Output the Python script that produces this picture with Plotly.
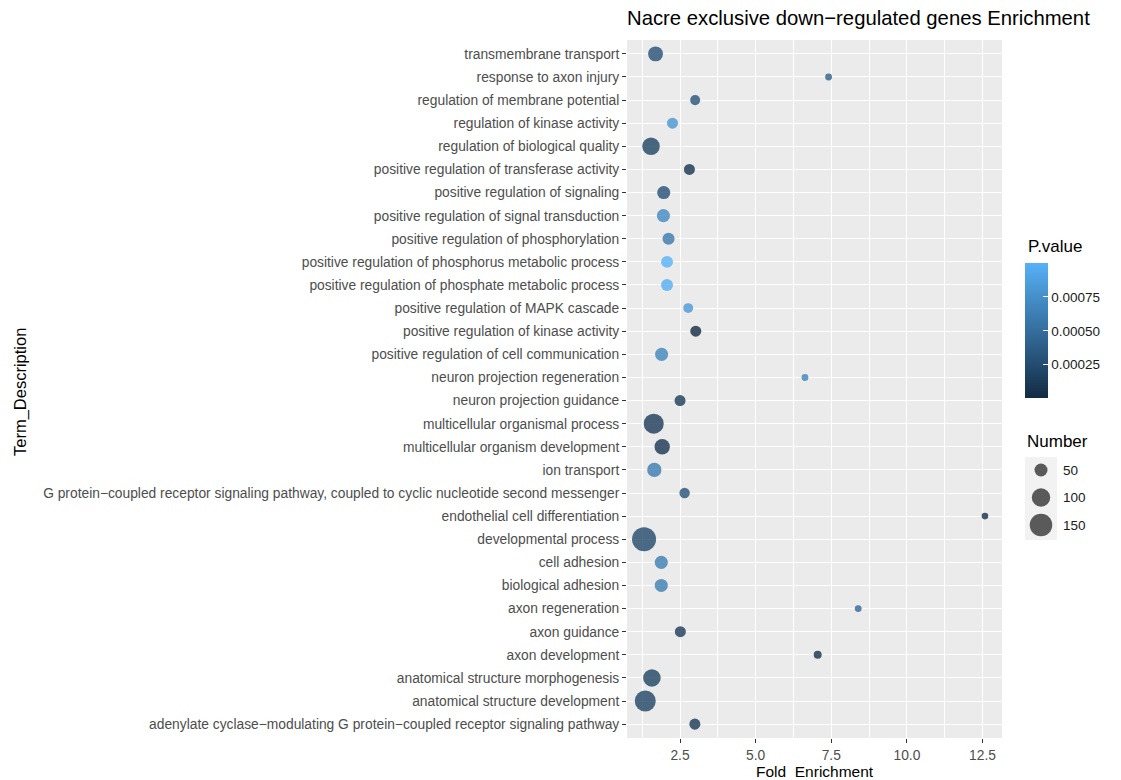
import plotly.graph_objects as go

# categories, bottom-to-top (alphabetical, case-insensitive)
terms = [
    "adenylate cyclase\u2212modulating G protein\u2212coupled receptor signaling pathway",
    "anatomical structure development",
    "anatomical structure morphogenesis",
    "axon development",
    "axon guidance",
    "axon regeneration",
    "biological adhesion",
    "cell adhesion",
    "developmental process",
    "endothelial cell differentiation",
    "G protein\u2212coupled receptor signaling pathway, coupled to cyclic nucleotide second messenger",
    "ion transport",
    "multicellular organism development",
    "multicellular organismal process",
    "neuron projection guidance",
    "neuron projection regeneration",
    "positive regulation of cell communication",
    "positive regulation of kinase activity",
    "positive regulation of MAPK cascade",
    "positive regulation of phosphate metabolic process",
    "positive regulation of phosphorus metabolic process",
    "positive regulation of phosphorylation",
    "positive regulation of signal transduction",
    "positive regulation of signaling",
    "positive regulation of transferase activity",
    "regulation of biological quality",
    "regulation of kinase activity",
    "regulation of membrane potential",
    "response to axon injury",
    "transmembrane transport",
]

fold_enrichment = [2.99, 1.35, 1.57, 7.05, 2.51, 8.39, 1.88, 1.88, 1.31, 12.58,
                   2.65, 1.65, 1.91, 1.63, 2.50, 6.63, 1.89, 3.02, 2.77, 2.07,
                   2.07, 2.12, 1.95, 1.96, 2.81, 1.54, 2.25, 3.00, 7.41, 1.69]

number = [36, 130, 91, 19, 36, 14, 51, 51, 170, 13,
          32, 60, 70, 118, 36, 14, 51, 36, 29, 42,
          42, 43, 51, 51, 36, 91, 36, 30, 14, 66]

p_value = [0.00010, 0.00020, 0.00018, 0.00004, 0.00012, 0.00045, 0.00062, 0.00062, 0.00022, 0.00003,
           0.00030, 0.00060, 0.00008, 0.00012, 0.00012, 0.00065, 0.00068, 0.000005, 0.00082, 0.00098,
           0.00100, 0.00058, 0.00070, 0.00028, 0.00006, 0.00018, 0.00080, 0.00030, 0.00040, 0.00028]

size_breaks = [50, 100, 150]
size_break_labels = ["50", "100", "150"]
p_ticks = [0.00025, 0.00050, 0.00075]
p_tick_labels = ["0.00025", "0.00050", "0.00075"]

title_text = "Nacre exclusive down\u2212regulated genes Enrichment"
x_title = "Fold\u00a0 Enrichment"
y_title = "Term_Description"

FONT = "Liberation Sans, Arial, sans-serif"
SIZEREF = 0.59
LOW, HIGH = "#132B43", "#56B1F7"
OPACITY = 0.8

OFF = 8  # page body margin
W, H = 1121 - OFF, 780 - OFF
L, R, T, B = 627 - OFF, 10, 40 - OFF, 780 - 738
pw = W - L - R
ph = H - T - B


def sx(px):
    return (px - OFF - L) / pw


def sy(py):
    return (H - B - (py - OFF)) / ph


xmin, xmax = min(fold_enrichment), max(fold_enrichment)
pad = (xmax - xmin) * 0.05

fig = go.Figure()

fig.add_trace(go.Scatter(
    x=fold_enrichment, y=terms, mode="markers",
    marker=dict(size=number, sizemode="area", sizeref=SIZEREF,
                color=p_value, colorscale=[[0, LOW], [1, HIGH]],
                cmin=min(p_value), cmax=max(p_value), opacity=OPACITY,
                line=dict(width=0),
                colorbar=dict(
                    x=sx(1025), xanchor="left", xpad=0,
                    y=sy(330.5), yanchor="middle", ypad=0,
                    len=135, lenmode="pixels", thickness=23,
                    outlinewidth=0,
                    tickvals=p_ticks, ticktext=p_tick_labels,
                    ticks="inside", ticklen=5, tickcolor="white", tickwidth=1,
                    tickfont=dict(family=FONT, size=13.5, color="#1a1a1a"),
                )),
    showlegend=False, hoverinfo="x+y",
))

# size legend keys
fig.add_trace(go.Scatter(
    x=[0.5, 0.5, 0.5], y=[2, 1, 0], mode="markers",
    marker=dict(size=size_breaks, sizemode="area", sizeref=SIZEREF, color="#333333",
                opacity=OPACITY, line=dict(width=0)),
    xaxis="x2", yaxis="y2", showlegend=False, hoverinfo="skip", cliponaxis=False,
))

key_y_screen = [470, 497, 525]
annotations = [
    dict(text=y_title, textangle=-90, x=sx(20), y=sy(392), xref="paper", yref="paper",
         xanchor="center", yanchor="middle", showarrow=False,
         font=dict(family=FONT, size=16.5, color="black")),
    dict(text=x_title, x=sx(815), y=sy(771), xref="paper", yref="paper",
         xanchor="center", yanchor="middle", showarrow=False,
         font=dict(family=FONT, size=15.5, color="black")),
    dict(text="P.value", x=sx(1026), y=sy(247), xref="paper", yref="paper",
         xanchor="left", yanchor="middle", showarrow=False,
         font=dict(family=FONT, size=17, color="black")),
    dict(text="Number", x=sx(1025), y=sy(441), xref="paper", yref="paper",
         xanchor="left", yanchor="middle", showarrow=False,
         font=dict(family=FONT, size=17, color="black")),
]
for lab, ys in zip(size_break_labels, key_y_screen):
    annotations.append(dict(text=lab, x=sx(1061), y=sy(ys), xref="paper", yref="paper",
                            xanchor="left", yanchor="middle", showarrow=False,
                            font=dict(family=FONT, size=13.5, color="#1a1a1a")))

fig.update_layout(
    width=W, height=H,
    margin=dict(l=L, r=R, t=T, b=B),
    paper_bgcolor="white", plot_bgcolor="#EBEBEB",
    font=dict(family=FONT),
    title=dict(text=title_text, x=0, xref="paper", xanchor="left",
               y=1 - (18 - OFF) / H, yref="container", yanchor="middle",
               font=dict(family=FONT, size=20.3, color="black")),
    xaxis=dict(domain=[0, sx(1002)], range=[xmin - pad, xmax + pad],
               tickmode="linear", tick0=0, dtick=2.5, tickformat=".1f",
               showgrid=True, gridcolor="white", gridwidth=1.1,
               minor=dict(tickmode="linear", tick0=0, dtick=1.25, showgrid=True,
                          gridcolor="white", gridwidth=0.5),
               ticks="outside", ticklen=4, tickcolor="#333333", tickwidth=1,
               tickfont=dict(family=FONT, size=13.8, color="#4D4D4D"),
               zeroline=False, showline=False),
    yaxis=dict(type="category", categoryorder="array", categoryarray=terms,
               range=[-0.6, len(terms) - 1 + 0.6],
               showgrid=True, gridcolor="white", gridwidth=1.1,
               ticks="outside", ticklen=4, tickcolor="#333333", tickwidth=1,
               tickfont=dict(family=FONT, size=13.8, color="#4D4D4D"),
               zeroline=False, showline=False),
    xaxis2=dict(domain=[sx(1025), sx(1057)], range=[0, 1], visible=False,
                anchor="y2", fixedrange=True),
    yaxis2=dict(domain=[sy(540), sy(457)], range=[-0.545, 2.473], visible=False,
                anchor="x2", fixedrange=True),
    shapes=[dict(type="rect", xref="x2 domain", yref="y2 domain", x0=0, x1=1, y0=0, y1=1,
                 fillcolor="#F2F2F2", line=dict(width=0), layer="below")],
    annotations=annotations,
)

fig.write_html("out.html")
